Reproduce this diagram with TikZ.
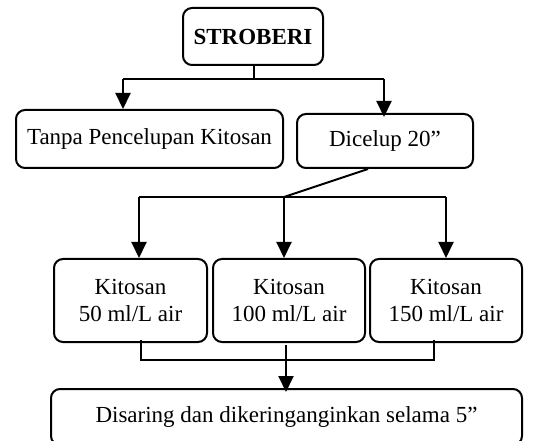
\documentclass[tikz,border=0pt]{standalone}
\usepackage{fontspec}
\setmainfont{Liberation Serif}
\usetikzlibrary{arrows.meta}
\begin{document}
\begin{tikzpicture}[x=1pt,y=-1pt,
  box/.style={draw, line width=2pt, rounded corners=9pt, inner sep=0pt, align=center, font=\fontsize{23}{27}\selectfont},
  conn/.style={line width=2pt},
  arr/.style={line width=2pt, -{Triangle[width=15pt,length=16pt]}}]
\useasboundingbox (0,0) rectangle (539,441);
\clip (0,0) rectangle (539,441);
% boxes
\node[box, minimum width=140pt, minimum height=57pt] (strob) at (253,36.5) {\textbf{STROBERI}};
\node[box, minimum width=267pt, minimum height=58pt] (tanpa) at (149.5,139) {Tanpa Pencelupan Kitosan};
\node[box, minimum width=176pt, minimum height=54pt] (dicelup) at (385,141) {Dicelup 20”};
\node[box, minimum width=153pt, minimum height=83pt] (k1) at (130.5,300.5) {Kitosan\\50 ml/L air};
\node[box, minimum width=152pt, minimum height=83pt] (k2) at (289,300.5) {Kitosan\\100 ml/L air};
\node[box, minimum width=152pt, minimum height=83pt] (k3) at (446,300.5) {Kitosan\\150 ml/L air};
\node[box, minimum width=471pt, minimum height=56pt] (final) at (286.5,417) {Disaring dan dikeringanginkan selama 5”};
% first split
\coordinate (j1) at (254,79);
\coordinate (a1) at (123,79);
\coordinate (a2) at (384,79);
\draw[conn] (strob.south -| j1) -- (j1);
\draw[conn] (a1) -- (a2);
\draw[arr] (a1) -- (a1 |- tanpa.north);
\draw[arr] (a2) -- ([yshift=-4pt]a2 |- dicelup.north);
% second split
\coordinate (d0) at (368,168);
\coordinate (j2) at (284,197);
\coordinate (b1) at (139,197);
\coordinate (b3) at (446,197);
\draw[conn] (d0 |- dicelup.south) -- (j2);
\draw[conn] (b1) -- (b3);
\draw[arr] (b1) -- (b1 |- k1.north);
\draw[arr] (j2) -- (j2 |- k2.north);
\draw[arr] (b3) -- (b3 |- k3.north);
% merge
\coordinate (m1) at (141,360);
\coordinate (m3) at (434,360);
\coordinate (m2) at (286,345);
\draw[conn] ([yshift=3pt]m1 |- k1.south) -- (m1) -- (m3) -- ([yshift=3pt]m3 |- k3.south);
\draw[arr] (m2) -- ([yshift=-4pt]m2 |- final.north);
\end{tikzpicture}
\end{document}
